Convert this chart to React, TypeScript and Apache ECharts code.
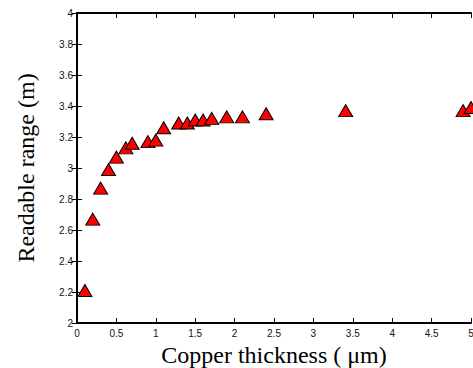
import React, { useEffect, useRef } from "react";
import * as echarts from "echarts";

const thickness = [0.1, 0.2, 0.3, 0.4, 0.5, 0.62, 0.7, 0.9, 1.0, 1.1, 1.29, 1.4, 1.5, 1.6, 1.71, 1.9, 2.1, 2.4, 3.41, 4.9, 5.0];
const range = [2.21, 2.67, 2.87, 2.99, 3.07, 3.13, 3.16, 3.17, 3.18, 3.26, 3.29, 3.29, 3.31, 3.31, 3.32, 3.33, 3.33, 3.35, 3.37, 3.37, 3.39];

const xName = "Copper thickness ( \u03bcm)";
const yName = "Readable range (m)";

export default function App() {
  const ref = useRef<HTMLDivElement>(null);
  useEffect(() => {
    document.body.style.margin = "0";
    const chart = echarts.init(ref.current!, undefined, { renderer: "svg" });
    const axisLine = { show: true, lineStyle: { color: "#000", width: 2 } };
    const tickStyle = { show: true, inside: true, length: 5, lineStyle: { color: "#000", width: 1 } };
    const labelStyle = { color: "#111", fontFamily: "Liberation Sans", fontSize: 10 };
    const nameStyle = { color: "#000", fontFamily: "Liberation Serif", fontSize: 24 };
    chart.setOption({
      animation: false,
      backgroundColor: "#fff",
      grid: { left: 77, right: 2, top: 13, bottom: 45, containLabel: false, outerBoundsMode: "none" },
      xAxis: [
        {
          type: "value", min: 0, max: 5, interval: 0.5, position: "bottom",
          axisLine, axisTick: tickStyle, splitLine: { show: false },
          axisLabel: { ...labelStyle, margin: 5, showMaxLabel: true },
          name: xName, nameLocation: "middle", nameGap: 18, nameTextStyle: nameStyle,
        },
        {
          type: "value", min: 0, max: 5, interval: 0.5, position: "top",
          axisLine, axisTick: tickStyle, splitLine: { show: false }, axisLabel: { show: false },
        },
      ],
      yAxis: [
        {
          type: "value", min: 2, max: 4, interval: 0.2, position: "left",
          axisLine, axisTick: tickStyle, splitLine: { show: false },
          axisLabel: { ...labelStyle, margin: 4, formatter: (v: number) => String(Math.round(v * 10) / 10) },
          name: yName, nameLocation: "middle", nameGap: 39, nameTextStyle: nameStyle,
        },
        {
          type: "value", min: 2, max: 4, interval: 0.2, position: "right",
          axisLine, axisTick: tickStyle, splitLine: { show: false }, axisLabel: { show: false },
        },
      ],
      series: [
        {
          type: "scatter",
          data: thickness.map((x, i) => [x, range[i]]),
          symbol: "triangle",
          symbolSize: [14, 12],
          clip: false,
          itemStyle: { color: "#ff0000", borderColor: "#000", borderWidth: 1, opacity: 1 },
        },
      ],
    });
    return () => chart.dispose();
  }, []);
  return <div ref={ref} style={{ position: "fixed", left: 0, top: 0, width: 473, height: 368 }} />;
}
